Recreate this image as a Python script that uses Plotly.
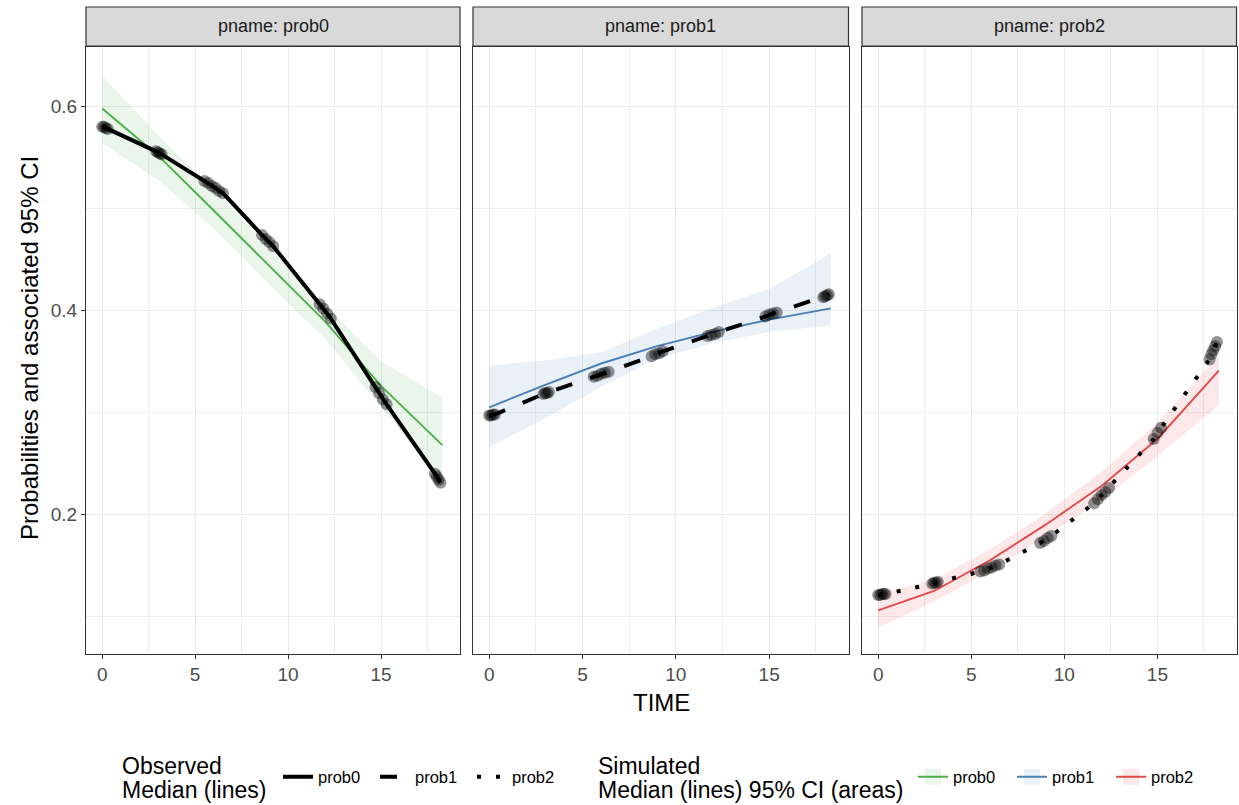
import plotly.graph_objects as go

# ---------------- data ----------------
panels = ["prob0", "prob1", "prob2"]

sim_time = [0, 3, 6, 9, 12, 15, 18.3]
sim_med = {
    "prob0": [0.598, 0.552, 0.498, 0.443, 0.389, 0.326, 0.268],
    "prob1": [0.305, 0.327, 0.348, 0.365, 0.379, 0.391, 0.402],
    "prob2": [0.106, 0.125, 0.155, 0.190, 0.228, 0.274, 0.341],
}
sim_upper = {
    "prob0": [0.630, 0.572, 0.518, 0.462, 0.405, 0.350, 0.315],
    "prob1": [0.346, 0.351, 0.359, 0.382, 0.403, 0.421, 0.456],
    "prob2": [0.122, 0.136, 0.166, 0.201, 0.242, 0.290, 0.356],
}
sim_lower = {
    "prob0": [0.564, 0.528, 0.480, 0.425, 0.372, 0.305, 0.232],
    "prob1": [0.266, 0.294, 0.325, 0.353, 0.368, 0.379, 0.385],
    "prob2": [0.089, 0.115, 0.144, 0.179, 0.214, 0.257, 0.307],
}

obs_time = {
    "prob0": [0.0, 0.1, 0.2, 0.3, 2.9, 3.0, 3.1, 3.2, 5.5, 5.7, 5.9, 6.1, 6.3, 6.5,
              8.6, 8.8, 9.0, 9.2, 11.7, 11.9, 12.1, 12.3, 14.7, 14.9, 15.1, 15.3,
              17.9, 18.0, 18.1, 18.2],
    "prob1": [0.0, 0.1, 0.2, 0.3, 2.9, 3.0, 3.1, 3.2, 5.6, 5.8, 6.0, 6.2, 6.4,
              8.7, 8.9, 9.1, 9.3, 11.7, 11.9, 12.1, 12.3, 14.8, 15.0, 15.2, 15.4,
              17.9, 18.0, 18.1, 18.2],
    "prob2": [0.0, 0.1, 0.2, 0.3, 0.4, 2.9, 3.0, 3.1, 3.2, 5.5, 5.7, 5.9, 6.1, 6.3, 6.5,
              8.7, 8.9, 9.1, 9.3, 11.6, 11.8, 12.0, 12.2, 12.4, 14.8, 15.0, 15.2,
              17.8, 17.9, 18.0, 18.1, 18.2],
}
obs_val = {
    "prob0": [0.580, 0.580, 0.579, 0.578, 0.556, 0.555, 0.554, 0.553,
              0.527, 0.525, 0.522, 0.520, 0.517, 0.515,
              0.474, 0.470, 0.467, 0.463, 0.406, 0.402, 0.397, 0.392,
              0.325, 0.319, 0.313, 0.308, 0.240, 0.237, 0.234, 0.231],
    "prob1": [0.297, 0.297, 0.298, 0.298, 0.318, 0.319, 0.319, 0.320,
              0.335, 0.336, 0.338, 0.339, 0.340, 0.355, 0.357, 0.358, 0.360,
              0.375, 0.376, 0.377, 0.379, 0.394, 0.396, 0.397, 0.398,
              0.413, 0.414, 0.415, 0.416],
    "prob2": [0.121, 0.121, 0.122, 0.122, 0.122, 0.132, 0.133, 0.133, 0.134,
              0.144, 0.145, 0.147, 0.148, 0.150, 0.151, 0.172, 0.174, 0.177, 0.179,
              0.211, 0.215, 0.219, 0.222, 0.226, 0.274, 0.280, 0.285,
              0.352, 0.357, 0.361, 0.365, 0.369],
}

x_ticks = [0, 5, 10, 15]
y_ticks = [0.2, 0.4, 0.6]
y_tick_labels = ["0.2", "0.4", "0.6"]

# ---------------- style ----------------
line_col = {"prob0": "#4DAF4A", "prob1": "#4A7EB6", "prob2": "#E4494B"}
band_col = {"prob0": "rgba(77,175,74,0.11)", "prob1": "rgba(55,126,184,0.11)",
            "prob2": "rgba(228,26,28,0.10)"}
obs_dash = {"prob0": "solid", "prob1": "17px,19px", "prob2": "4px,15px"}
FONT = "Liberation Sans, Arial, sans-serif"
W, H = 1239, 805
panel_px = [(86, 460), (473, 848.5), (862, 1236.5)]
top_px, bot_px = 47, 653.5
strip_top = 7
SMALL = 19
BIG = 24

fig = go.Figure()

for i, p in enumerate(panels):
    xa = "x" if i == 0 else f"x{i+1}"
    ya = "y" if i == 0 else f"y{i+1}"
    fig.add_trace(go.Scatter(
        x=sim_time + sim_time[::-1], y=sim_upper[p] + sim_lower[p][::-1],
        fill="toself", fillcolor=band_col[p], line=dict(width=0),
        mode="lines", hoverinfo="skip", showlegend=False, xaxis=xa, yaxis=ya))
    fig.add_trace(go.Scatter(
        x=sim_time, y=sim_med[p], mode="lines",
        line=dict(color=line_col[p], width=1.9), showlegend=False,
        xaxis=xa, yaxis=ya))
    fig.add_trace(go.Scatter(
        x=obs_time[p], y=obs_val[p], mode="markers",
        marker=dict(color="rgba(0,0,0,0.42)", size=12, line=dict(width=0)),
        showlegend=False, xaxis=xa, yaxis=ya))
    fig.add_trace(go.Scatter(
        x=obs_time[p], y=obs_val[p], mode="lines", name=p,
        line=dict(color="black", width=4, dash=obs_dash[p]),
        legend="legend", showlegend=True, xaxis=xa, yaxis=ya))

# simulated legend entries (key: light box + median line)
for p in panels:
    fig.add_trace(go.Scatter(
        x=[None], y=[None], mode="lines+markers", name=p,
        marker=dict(symbol="square", size=30, color=band_col[p], line=dict(width=0)),
        line=dict(color=line_col[p], width=1.9),
        legend="legend2", showlegend=True))

layout = dict(
    width=W, height=H, margin=dict(l=0, r=0, t=0, b=0),
    paper_bgcolor="white", plot_bgcolor="white",
    font=dict(family=FONT, color="#1A1A1A"),
    showlegend=True,
)

ydom = [1 - bot_px / H, 1 - top_px / H]
for i, (l, r) in enumerate(panel_px):
    xk = "xaxis" if i == 0 else f"xaxis{i+1}"
    yk = "yaxis" if i == 0 else f"yaxis{i+1}"
    ya = "y" if i == 0 else f"y{i+1}"
    xa = "x" if i == 0 else f"x{i+1}"
    layout[xk] = dict(
        domain=[l / W, r / W], anchor=ya, range=[-0.87, 19.25],
        tickvals=x_ticks, ticktext=[str(t) for t in x_ticks],
        ticks="outside", ticklen=4, tickwidth=1.1, tickcolor="#333333",
        tickfont=dict(size=SMALL, color="#4D4D4D", family=FONT),
        showgrid=True, gridcolor="#EBEBEB", gridwidth=1.4,
        minor=dict(tick0=0, dtick=2.5, showgrid=True, gridcolor="#EEEEEE", gridwidth=0.8),
        showline=True, mirror=True, linecolor="#333333", linewidth=1.2,
        zeroline=False,
    )
    layout[yk] = dict(
        domain=ydom, anchor=xa, range=[0.0637, 0.6583],
        tickvals=y_ticks, ticktext=y_tick_labels,
        ticks="outside" if i == 0 else "", ticklen=4, tickwidth=1.1, tickcolor="#333333",
        showticklabels=(i == 0),
        tickfont=dict(size=SMALL, color="#4D4D4D", family=FONT),
        showgrid=True, gridcolor="#EBEBEB", gridwidth=1.4,
        minor=dict(tick0=0, dtick=0.1, showgrid=True, gridcolor="#EEEEEE", gridwidth=0.8),
        showline=True, mirror=True, linecolor="#333333", linewidth=1.2,
        zeroline=False,
    )

shapes = []
annotations = []
for i, (l, r) in enumerate(panel_px):
    shapes.append(dict(type="rect", xref="paper", yref="paper",
                       x0=l / W, x1=r / W, y0=1 - 46 / H, y1=1 - strip_top / H,
                       fillcolor="#D9D9D9", line=dict(color="#333333", width=1.2)))
    annotations.append(dict(xref="paper", yref="paper", x=(l + r) / 2 / W,
                            y=1 - (strip_top + 46) / 2 / H, text=f"pname: {panels[i]}",
                            showarrow=False, xanchor="center", yanchor="middle",
                            font=dict(size=18, color="#1A1A1A", family=FONT)))
annotations.append(dict(xref="paper", yref="paper", x=661 / W, y=1 - 702 / H,
                        text="TIME", showarrow=False, xanchor="center", yanchor="middle",
                        font=dict(size=BIG, color="#000000", family=FONT)))
annotations.append(dict(xref="paper", yref="paper", x=29 / W, y=1 - 348 / H,
                        text="Probabilities and associated 95% CI", textangle=-90,
                        showarrow=False, xanchor="center", yanchor="middle",
                        font=dict(size=BIG, color="#000000", family=FONT)))
# legend titles
for txt, xpx, ypx in [("Observed", 120, 766), ("Median (lines)", 120, 790),
                      ("Simulated", 596, 766), ("Median (lines) 95% CI (areas)", 596, 790)]:
    annotations.append(dict(xref="paper", yref="paper", x=xpx / W, y=1 - ypx / H,
                            text=txt, showarrow=False, xanchor="left", yanchor="middle",
                            font=dict(size=23, color="#000000", family=FONT)))
layout["shapes"] = shapes
layout["annotations"] = annotations

layout["legend"] = dict(
    orientation="h", x=278 / W, xanchor="left", y=1 - 777 / H, yanchor="middle",
    font=dict(size=16.5, color="#000000", family=FONT), bgcolor="rgba(0,0,0,0)",
    entrywidth=52, entrywidthmode="pixels",
)
layout["legend2"] = dict(
    orientation="h", x=913 / W, xanchor="left", y=1 - 777 / H, yanchor="middle",
    font=dict(size=16.5, color="#000000", family=FONT), bgcolor="rgba(0,0,0,0)",
    entrywidth=54, entrywidthmode="pixels", itemsizing="trace",
)

fig.update_layout(**layout)
fig.write_html("out.html")
